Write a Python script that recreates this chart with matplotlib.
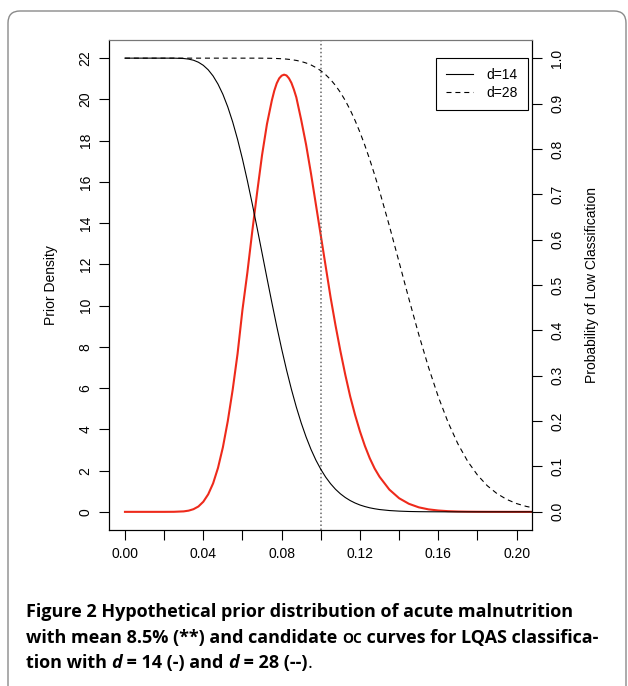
import numpy as np
import matplotlib
matplotlib.use("Agg")
import matplotlib.pyplot as plt
from matplotlib.patches import FancyBboxPatch

#---data--------------------------
prior_x = [0.000, 0.005, 0.010, 0.015, 0.020, 0.025, 0.030,
           0.0325, 0.035, 0.0375, 0.040, 0.0425, 0.045, 0.0475, 0.050,
           0.0525, 0.055, 0.0575, 0.060, 0.0625, 0.065, 0.0675, 0.070,
           0.0725, 0.075, 0.07625, 0.0775, 0.07875, 0.080, 0.08125, 0.0825,
           0.08375, 0.085, 0.08625, 0.0875, 0.090,
           0.0925, 0.095, 0.0975, 0.100, 0.1025, 0.105, 0.1075, 0.110,
           0.1125, 0.115, 0.1175, 0.120, 0.1225, 0.125, 0.1275, 0.130,
           0.135, 0.140, 0.145, 0.150, 0.155, 0.160, 0.165, 0.170,
           0.175, 0.180, 0.185, 0.190, 0.195, 0.200, 0.205, 0.210]

prior_density = [0, 0, 0, 0, 0.0002, 0.003, 0.023,
                 0.058, 0.13, 0.26, 0.49, 0.85, 1.38, 2.13, 3.13,
                 4.40, 5.92, 7.67, 9.8, 11.6, 13.6, 15.5, 17.3,
                 18.8, 19.95, 20.42, 20.78, 21.02, 21.15, 21.2, 21.16,
                 21.02, 20.8, 20.48, 20.1, 19.0,
                 17.8, 16.4, 14.9, 13.4, 11.9, 10.4, 9.05, 7.8,
                 6.65, 5.6, 4.7, 3.9, 3.2, 2.6, 2.1, 1.7,
                 1.08, 0.66, 0.39, 0.22, 0.12, 0.065, 0.033, 0.016,
                 0.008, 0.004, 0.002, 0.001, 0, 0, 0, 0]

oc_x = [0.000, 0.005, 0.010, 0.015, 0.020, 0.025, 0.030,
        0.0325, 0.035, 0.0375, 0.040, 0.0425, 0.045, 0.0475, 0.050,
        0.0525, 0.055, 0.0575, 0.060, 0.0625, 0.065, 0.0675, 0.070,
        0.0725, 0.075, 0.0775, 0.080, 0.0825, 0.085, 0.0875, 0.090,
        0.0925, 0.095, 0.0975, 0.100, 0.1025, 0.105, 0.1075, 0.110,
        0.1125, 0.115, 0.1175, 0.120, 0.1225, 0.125, 0.1275, 0.130,
        0.135, 0.140, 0.145, 0.150, 0.155, 0.160, 0.165, 0.170,
        0.175, 0.180, 0.185, 0.190, 0.195, 0.200, 0.205, 0.210]

oc_d14 = [1.0, 1.0, 1.0, 1.0, 1.0, 1.0, 0.9992,
          0.9979, 0.9954, 0.9910, 0.9842, 0.9743, 0.9607, 0.9428, 0.9203,
          0.8925, 0.8594, 0.8209, 0.7776, 0.7299, 0.6788, 0.6253, 0.5705,
          0.5155, 0.4614, 0.4090, 0.3593, 0.3128, 0.2700, 0.2309, 0.1959,
          0.1649, 0.1376, 0.1140, 0.0938, 0.0765, 0.0620, 0.0498, 0.0398,
          0.0316, 0.0249, 0.0195, 0.0151, 0.0117, 0.0089, 0.0068, 0.0051,
          0.0029, 0.0016, 0.0008, 0.0004, 0.0002, 0.0001, 0, 0,
          0, 0, 0, 0, 0, 0, 0, 0]

oc_d28 = [1.0, 1.0, 1.0, 1.0, 1.0, 1.0, 1.0,
          1.0, 1.0, 1.0, 1.0, 1.0, 1.0, 1.0, 1.0,
          1.0, 1.0, 1.0, 1.0, 1.0, 1.0, 1.0, 0.9999,
          0.9998, 0.9996, 0.9992, 0.9987, 0.9979, 0.9967, 0.9950, 0.9926,
          0.9893, 0.9850, 0.9793, 0.9723, 0.9634, 0.9528, 0.9398, 0.9245,
          0.9066, 0.8860, 0.8626, 0.8365, 0.8078, 0.7764, 0.7427, 0.7070,
          0.6306, 0.5502, 0.4693, 0.3912, 0.3187, 0.2536, 0.1972, 0.1499,
          0.1114, 0.0811, 0.0576, 0.0401, 0.0273, 0.0182, 0.0119, 0.0076]

threshold = 0.10
x_ticks = [0.00, 0.02, 0.04, 0.06, 0.08, 0.10, 0.12, 0.14, 0.16, 0.18, 0.20]
x_labels = ["0.00", "", "0.04", "", "0.08", "", "0.12", "", "0.16", "", "0.20"]
left_ticks = list(range(0, 23, 2))
right_ticks = [0.0, 0.1, 0.2, 0.3, 0.4, 0.5, 0.6, 0.7, 0.8, 0.9, 1.0]
legend_labels = ["d=14", "d=28"]

#---figure-----
W, H = 628, 686
plt.rcParams['font.family'] = ['Liberation Sans', 'DejaVu Sans']
fig = plt.figure(figsize=(W / 100, H / 100), dpi=100)

# outer rounded frame
bg = fig.add_axes([0, 0, 1, 1], zorder=-5)
bg.set_xlim(0, W)
bg.set_ylim(H, 0)
bg.axis('off')
bg.add_patch(FancyBboxPatch((8, 11), 618, 720, boxstyle="round,pad=0,rounding_size=12",
                            fc='white', ec='#8a8a8a', lw=1.0))

ax = fig.add_axes([109.3 / W, 1 - 530 / H, 423 / W, 490 / H])
ax.plot(prior_x, prior_density, color='#ee2a1b', lw=1.5)
ax.axvline(threshold, color='#666666', ls=(0, (1, 1.6)), lw=1.1)
ax.set_xlim(-0.008, 0.208)
ax.set_ylim(-0.88, 22.88)
ax.set_xticks(x_ticks)
ax.set_xticklabels(x_labels)
ax.set_yticks(left_ticks)
ax.set_yticklabels([str(v) for v in left_ticks], rotation=90, va='center')
ax.tick_params(direction='out', length=7, width=0.8, labelsize=10, pad=5)
ax.set_ylabel("Prior Density", fontsize=10, rotation=90, ha='center', va='center')
ax.yaxis.set_label_coords(-0.138, 0.5)

tw = ax.twinx()
l14, = tw.plot(oc_x, oc_d14, color='black', lw=0.8)
l28, = tw.plot(oc_x, oc_d28, color='black', lw=0.8, dashes=(4.5, 3.5))
tw.set_ylim(-0.04, 1.04)
tw.set_yticks(right_ticks)
tw.set_yticklabels(["%.1f" % v for v in right_ticks], rotation=90, va='center')
tw.tick_params(direction='out', length=7, width=0.8, labelsize=10, pad=6)
tw.set_ylabel("Probability of Low Classification", fontsize=10, rotation=90,
              ha='center', va='center')
tw.yaxis.set_label_coords(1.141, 0.5)

for a in (ax, tw):
    for s in a.spines.values():
        s.set_linewidth(0.8)
    a.spines['top'].set_color('#777777')

leg = fig.legend([l14, l28], legend_labels, loc='upper right',
                 bbox_to_anchor=(527.5 / W, 1 - 58.3 / H), borderaxespad=0,
                 fancybox=False, edgecolor='black', framealpha=1, fontsize=10,
                 handlelength=1.9, handletextpad=1.0, labelspacing=0.3,
                 borderpad=0.7)
leg.get_frame().set_linewidth(0.8)

#---caption-----
def caption_line(x, y, pieces):
    r = fig.canvas.get_renderer()
    for txt, kw in pieces:
        t = fig.text(x / W, 1 - y / H, txt, ha='left', va='baseline', **kw)
        x += t.get_window_extent(renderer=r).width

cap = dict(family=['Open Sans', 'DejaVu Sans'], fontsize=13.0, weight='bold')
cap_i = dict(cap, style='italic')
cap_sc = dict(cap, fontsize=10)
cap_n = dict(cap, weight='normal')
caption_line(26, 617, [("Figure 2 Hypothetical prior distribution of acute malnutrition", cap)])
caption_line(26, 643, [("with mean 8.5% (**) and candidate ", cap), ("OC", cap_sc),
                       (" curves for LQAS classifica-", cap)])
caption_line(26, 668, [("tion with ", cap), ("d", cap_i), (" = 14 (-) and ", cap),
                       ("d", cap_i), (" = 28 (--)", cap), (".", cap_n)])

fig.savefig("out.png", dpi=100)
